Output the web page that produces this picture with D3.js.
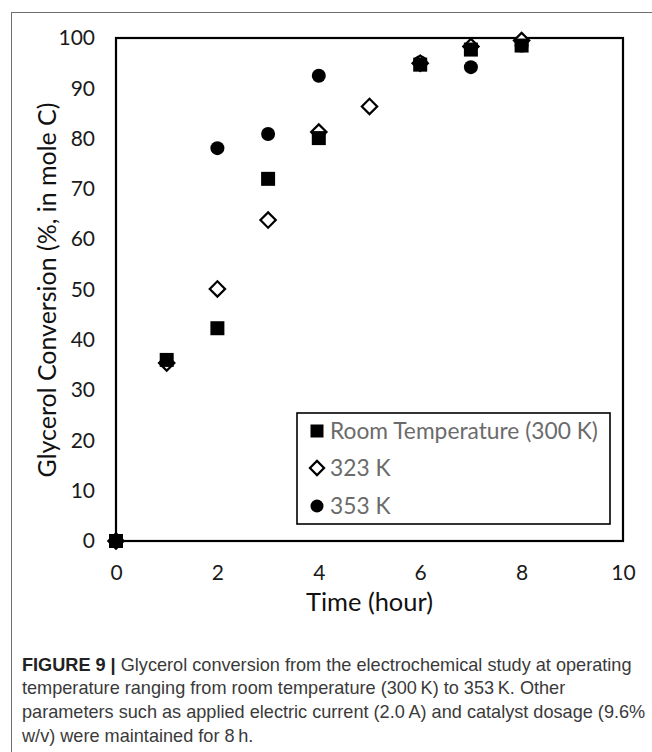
<!DOCTYPE html>
<html>
<head>
<meta charset="utf-8">
<script src="https://cdn.jsdelivr.net/npm/d3@7"></script>
<style>
  html, body { margin: 0; padding: 0; background: #fff; }
  svg { display: block; }
</style>
</head>
<body>
<script>
// ---- data ----
const xTickValues = [0, 2, 4, 6, 8, 10];
const yTickValues = [0, 10, 20, 30, 40, 50, 60, 70, 80, 90, 100];

const roomTime   = [0, 1, 2, 3, 4, 6, 7, 8];
const roomValues = [0, 36.0, 42.3, 72.0, 80.1, 94.7, 97.7, 98.5];

const k323Time   = [0, 1, 2, 3, 4, 5, 6, 7, 8];
const k323Values = [0, 35.4, 50.1, 63.8, 81.3, 86.4, 95.0, 98.3, 99.5];

const k353Time   = [0, 2, 3, 4, 6, 7, 8];
const k353Values = [0, 78.1, 80.9, 92.5, 95.2, 94.2, 98.5];

const seriesNames = ["Room Temperature (300 K)", "323 K", "353 K"];

const xAxisTitle = "Time (hour)";
const yAxisTitle = "Glycerol Conversion (%, in mole C)";

const captionBold = "FIGURE 9 |";
const captionLines = [
  " Glycerol conversion from the electrochemical study at operating",
  "temperature ranging from room temperature (300\u2009K) to 353\u2009K. Other",
  "parameters such as applied electric current (2.0\u2009A) and catalyst dosage (9.6%",
  "w/v) were maintained for 8\u2009h."
];

// ---- layout ----
const W = 652, H = 752;
const plot = { left: 116, right: 623, top: 38, bottom: 541 };
const chartFont = "Lato, 'Open Sans', sans-serif";

const svg = d3.select("body").append("svg")
  .attr("width", W).attr("height", H);

// scale a text's font size so that it spans a given width
function fitWidth(sel, target) {
  const len = sel.node().getComputedTextLength();
  const fs = +sel.attr("font-size");
  if (len > 0) sel.attr("font-size", (fs * target / len).toFixed(2));
  return sel;
}

// outer figure frame
svg.append("line").attr("x1", 11).attr("x2", W).attr("y1", 12.5).attr("y2", 12.5)
  .attr("stroke", "#6e6e6e").attr("stroke-width", 1);
svg.append("line").attr("x1", 11.5).attr("x2", 11.5).attr("y1", 12).attr("y2", H)
  .attr("stroke", "#6e6e6e").attr("stroke-width", 1);

const x = d3.scaleLinear().domain([0, 10]).range([plot.left, plot.right]);
const y = d3.scaleLinear().domain([0, 100]).range([plot.bottom, plot.top]);

// axes (labels only)
const gx = svg.append("g")
  .attr("transform", `translate(0,${plot.bottom})`)
  .call(d3.axisBottom(x).tickValues(xTickValues).tickFormat(d3.format("d")).tickSize(0).tickPadding(24));
gx.select(".domain").remove();
gx.selectAll("text").attr("font-family", chartFont).attr("font-size", 21).attr("fill", "#1a1a1a");

const gy = svg.append("g")
  .attr("transform", `translate(${plot.left},0)`)
  .call(d3.axisLeft(y).tickValues(yTickValues).tickFormat(d3.format("d")).tickSize(0).tickPadding(21));
gy.select(".domain").remove();
gy.selectAll("text").attr("font-family", chartFont).attr("font-size", 21).attr("fill", "#1a1a1a");

// plot frame
svg.append("rect")
  .attr("x", plot.left).attr("y", plot.top)
  .attr("width", plot.right - plot.left).attr("height", plot.bottom - plot.top)
  .attr("fill", "none").attr("stroke", "#000").attr("stroke-width", 2.2);

// axis titles
const xt = svg.append("text")
  .attr("x", (plot.left + plot.right) / 2).attr("y", 611)
  .attr("text-anchor", "middle")
  .attr("font-family", chartFont).attr("font-size", 23).attr("fill", "#111")
  .text(xAxisTitle);
fitWidth(xt, 127);

const yt = svg.append("text")
  .attr("transform", `translate(56,290) rotate(-90)`)
  .attr("text-anchor", "middle")
  .attr("font-family", chartFont).attr("font-size", 23).attr("fill", "#111")
  .text(yAxisTitle);
fitWidth(yt, 375);

// markers
const sq = 14, circR = 7;
const diamondPath = d3.symbol().type(d3.symbolSquare).size(118)();

function drawSquare(g, cx, cy, s) {
  g.append("rect").attr("x", cx - s / 2).attr("y", cy - s / 2)
    .attr("width", s).attr("height", s).attr("fill", "#000");
}
function drawDiamond(g, cx, cy, path) {
  g.append("path").attr("d", path)
    .attr("transform", `translate(${cx},${cy}) rotate(45)`)
    .attr("fill", "#fff").attr("stroke", "#000").attr("stroke-width", 2.2);
}
function drawCircle(g, cx, cy, r) {
  g.append("circle").attr("cx", cx).attr("cy", cy).attr("r", r).attr("fill", "#000");
}

const marks = svg.append("g");
k353Time.forEach((t, i) => drawCircle(marks, x(t), y(k353Values[i]), circR));
k323Time.forEach((t, i) => drawDiamond(marks, x(t), y(k323Values[i]), diamondPath));
roomTime.forEach((t, i) => drawSquare(marks, x(t), y(roomValues[i]), sq));

// legend
const lg = svg.append("g");
lg.append("rect").attr("x", 297).attr("y", 413).attr("width", 313).attr("height", 111)
  .attr("fill", "#fff").attr("stroke", "#000").attr("stroke-width", 1.6);
const rowY = [431, 468, 506];
const mx = 317;
drawSquare(lg, mx, rowY[0], 13);
drawDiamond(lg, mx, rowY[1], d3.symbol().type(d3.symbolSquare).size(100)());
drawCircle(lg, mx, rowY[2], 6.5);
const legTexts = seriesNames.map((n, i) =>
  lg.append("text").attr("x", 330).attr("y", rowY[i]).attr("dy", "0.35em")
    .attr("font-family", chartFont).attr("font-size", 21).attr("fill", "#6b6b6b")
    .text(n));
fitWidth(legTexts[0], 268);
legTexts.forEach(t => t.attr("font-size", legTexts[0].attr("font-size")));

// caption
const capFont = "'Liberation Sans', Arial, sans-serif";
const cap = svg.append("text")
  .attr("font-family", capFont).attr("font-size", 18).attr("fill", "#3a3a3a");
const capX = 22, capY0 = 670.5, capDy = 23.7;
const first = cap.append("tspan").attr("x", capX).attr("y", capY0);
first.append("tspan").attr("font-weight", "bold").attr("fill", "#222").text(captionBold);
first.append("tspan").text(captionLines[0]);
captionLines.slice(1).forEach((l, i) => {
  cap.append("tspan").attr("x", capX).attr("y", capY0 + capDy * (i + 1)).text(l);
});
// fit first caption line width (22 -> ~632)
{
  const n = first.node();
  const len = n.getComputedTextLength();
  if (len > 0) cap.attr("font-size", (18 * 610 / len).toFixed(2));
}
</script>
</body>
</html>
